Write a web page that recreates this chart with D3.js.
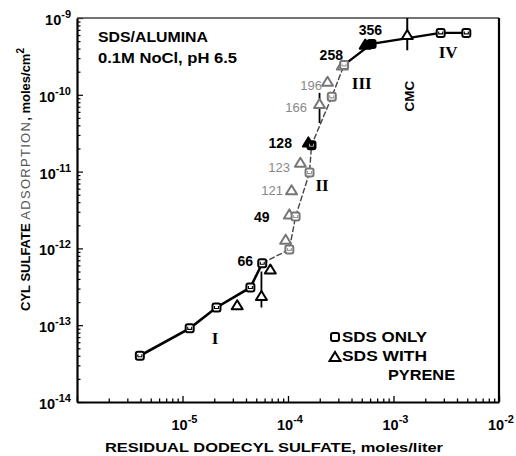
<!DOCTYPE html>
<html>
<head>
<meta charset="utf-8">
<script src="https://cdn.jsdelivr.net/npm/d3@7"></script>
<style>
  body { margin: 0; background: #fff; }
  text { font-family: "Liberation Sans", Arial, sans-serif; }
</style>
</head>
<body>
<script>
const width = 516;
const height = 456;
const margin = {left: 77, right: 17, top: 18, bottom: 54};

// SDS only (squares): residual conc (moles/liter), adsorption (moles/cm2)
const sdsConc = [3.94e-6, 1.17e-5, 2.1e-5, 4.4e-5, 5.7e-5, 1.03e-4, 1.18e-4, 1.6e-4, 1.67e-4, 2.6e-4, 3.4e-4, 6.2e-4, 2.8e-3, 4.9e-3];
const sdsAds = [4.0e-14, 9.1e-14, 1.7e-13, 3.1e-13, 6.4e-13, 9.7e-13, 2.6e-12, 9.7e-12, 2.2e-11, 9.4e-11, 2.45e-10, 4.6e-10, 6.4e-10, 6.4e-10];

// SDS with pyrene (triangles)
const pyrConc = [3.3e-5, 5.6e-5, 6.8e-5, 9.5e-5, 1.03e-4, 1.08e-4, 1.31e-4, 1.56e-4, 1.99e-4, 2.37e-4, 3.27e-4, 5.4e-4, 1.35e-3];
const pyrAds = [1.82e-13, 2.4e-13, 5.3e-13, 1.3e-12, 2.77e-12, 5.7e-12, 1.3e-11, 2.4e-11, 7.6e-11, 1.48e-10, 2.4e-10, 4.5e-10, 6.0e-10];

// error bars on two pyrene points
const errIdx = [1, 8];
const errLo = [1.7e-13, 4.3e-11];
const errHi = [5.0e-13, 1.06e-10];

// numbers written next to points
const ptLabels = ['66', '49', '121', '123', '128', '166', '196', '258', '356'];
const ptLabelConc = [4.66e-5, 6.7e-5, 8.97e-5, 1.045e-4, 1.09e-4, 1.51e-4, 2.1e-4, 3.32e-4, 7.78e-4];
const ptLabelAds = [5.9e-13, 2.2e-12, 4.96e-12, 9.9e-12, 2.03e-11, 5.97e-11, 1.15e-10, 2.84e-10, 6.0e-10];
const greyLabels = ['121', '123', '166', '196'];

// regions
const regions = ['I', 'II', 'III', 'IV'];
const regionConc = [2.03e-5, 2.1e-4, 5.0e-4, 3.3e-3];
const regionAds = [6.8e-14, 6.7e-12, 1.43e-10, 3.6e-10];

const cmcConc = 1.35e-3;
const cmcLineEnd = 3.8e-10;

const xTickLabels = [1e-5, 1e-4, 1e-3, 1e-2];
const yTickLabels = [1e-9, 1e-10, 1e-11, 1e-12, 1e-13, 1e-14];
const legendLabels = ['SDS ONLY', 'SDS WITH', 'PYRENE'];

const svg = d3.select('body').append('svg')
  .attr('width', width)
  .attr('height', height);

const x = d3.scaleLog().domain([1e-6, 1e-2]).range([margin.left, width - margin.right]);
const y = d3.scaleLog().domain([1e-14, 1e-9]).range([height - margin.bottom, margin.top]);

const isMajor = d => Math.abs(Math.log10(d) - Math.round(Math.log10(d))) < 1e-6;

function logTicks(lo, hi) {
  let t = [];
  for (let e = lo; e < hi; e++) {
    for (let k = 1; k < 10; k++) t.push(k * Math.pow(10, e));
  }
  t.push(Math.pow(10, hi));
  return t;
}

// axes with inward ticks
const xAxis = svg.append('g')
  .attr('transform', `translate(0, ${y.range()[0]})`)
  .call(d3.axisBottom(x).tickValues(logTicks(-6, -2)).tickFormat('').tickSizeOuter(0));
xAxis.select('.domain').attr('stroke-width', 2.2);
xAxis.selectAll('.tick line').attr('y2', d => isMajor(d) ? -6 : -3.5).attr('stroke-width', 1.3);

const yAxis = svg.append('g')
  .attr('transform', `translate(${x.range()[0]}, 0)`)
  .call(d3.axisLeft(y).tickValues(logTicks(-14, -9)).tickFormat('').tickSizeOuter(0));
yAxis.select('.domain').attr('stroke-width', 2.2);
yAxis.selectAll('.tick line').attr('x2', d => isMajor(d) ? 6 : 3.5).attr('stroke-width', 1.2);

// top and right frame
svg.append('line')
  .attr('x1', x.range()[0]).attr('x2', x.range()[1])
  .attr('y1', y.range()[1]).attr('y2', y.range()[1])
  .attr('stroke', '#444').attr('stroke-width', 1.6);
svg.append('line')
  .attr('x1', x.range()[1]).attr('x2', x.range()[1])
  .attr('y1', y.range()[1]).attr('y2', y.range()[0])
  .attr('stroke', '#000').attr('stroke-width', 2.2);

// tick labels
function powLabel(sel, d) {
  const e = Math.round(Math.log10(d));
  sel.append('tspan').text('10').attr('font-size', 14.5);
  sel.append('tspan').text(String(e)).attr('font-size', 11).attr('dy', -7);
}

svg.selectAll('.xlab')
  .data(xTickLabels)
  .enter()
  .append('text')
  .attr('class', 'xlab')
  .attr('x', d => x(d) + 2)
  .attr('y', 430)
  .attr('text-anchor', 'middle')
  .attr('font-weight', 'bold')
  .each(function(d) { powLabel(d3.select(this), d); });

svg.selectAll('.ylab')
  .data(yTickLabels)
  .enter()
  .append('text')
  .attr('class', 'ylab')
  .attr('x', 71)
  .attr('y', d => y(d) + 7)
  .attr('text-anchor', 'end')
  .attr('font-weight', 'bold')
  .each(function(d) { powLabel(d3.select(this), d); });

// axis titles
svg.append('text')
  .text('RESIDUAL DODECYL SULFATE, moles/liter')
  .attr('x', 105)
  .attr('y', 452)
  .attr('textLength', 338)
  .attr('lengthAdjust', 'spacingAndGlyphs')
  .attr('font-size', 13)
  .attr('font-weight', 'bold');

const yTitle = svg.append('text')
  .attr('transform', 'translate(30, 311) rotate(-90)')
  .attr('font-size', 13);
yTitle.append('tspan').text('CYL SULFATE ').attr('font-weight', 'bold');
yTitle.append('tspan').text('ADSORPTION').attr('fill', '#555').attr('letter-spacing', 1.3);
yTitle.append('tspan').text(', moles/cm').attr('font-weight', 'bold');
yTitle.append('tspan').text('2').attr('font-weight', 'bold').attr('font-size', 10).attr('dy', -6);

// header
svg.append('text')
  .text('SDS/ALUMINA')
  .attr('x', 98).attr('y', 42)
  .attr('textLength', 110).attr('lengthAdjust', 'spacingAndGlyphs')
  .attr('font-size', 14).attr('font-weight', 'bold');
svg.append('text')
  .text('0.1M NoCl, pH 6.5')
  .attr('x', 98).attr('y', 63)
  .attr('textLength', 139).attr('lengthAdjust', 'spacingAndGlyphs')
  .attr('font-size', 14).attr('font-weight', 'bold');

// connecting curve through SDS-only points
const sds = sdsConc.map((c, i) => [c, sdsAds[i]]);
const pyr = pyrConc.map((c, i) => [c, pyrAds[i]]);
const line = d3.line().x(d => x(d[0])).y(d => y(d[1]));

svg.append('path').datum(sds.slice(0, 5))
  .attr('d', line).attr('fill', 'none').attr('stroke', '#000').attr('stroke-width', 2.6);
svg.append('path').datum(sds.slice(4, 11))
  .attr('d', line).attr('fill', 'none').attr('stroke', '#444').attr('stroke-width', 1.4)
  .attr('stroke-dasharray', '6,2');
svg.append('path').datum(sds.slice(10))
  .attr('d', line).attr('fill', 'none').attr('stroke', '#000').attr('stroke-width', 2.4);

// CMC line
svg.append('line')
  .attr('x1', x(cmcConc)).attr('x2', x(cmcConc))
  .attr('y1', y.range()[1]).attr('y2', y(cmcLineEnd))
  .attr('stroke', '#000').attr('stroke-width', 2);
svg.append('text')
  .text('CMC')
  .attr('transform', `translate(${x(cmcConc) + 7}, 96) rotate(-90)`)
  .attr('text-anchor', 'middle')
  .attr('font-size', 13.5).attr('font-weight', 'bold');

// error bars
errIdx.forEach((k, i) => {
  svg.append('line')
    .attr('x1', x(pyrConc[k])).attr('x2', x(pyrConc[k]))
    .attr('y1', y(errLo[i])).attr('y2', y(errHi[i]))
    .attr('stroke', '#000').attr('stroke-width', 1.8);
});

const filledSq = new Set([8, 11]);
const filledTri = new Set([7, 11]);
const faded = d => d[1] > 8e-13 && d[1] < 3e-10;

const triPath = 'M0,-5 L5.5,4 L-5.5,4 Z';

svg.selectAll('.tri')
  .data(pyr)
  .enter()
  .append('path')
  .attr('class', 'tri')
  .attr('d', triPath)
  .attr('transform', d => `translate(${x(d[0])}, ${y(d[1])})`)
  .attr('fill', (d, i) => filledTri.has(i) ? '#000' : '#fff')
  .attr('stroke', (d, i) => filledTri.has(i) ? '#000' : (faded(d) ? '#777' : '#000'))
  .attr('stroke-width', 2)
  .attr('stroke-linejoin', 'round');

const sqG = svg.selectAll('.sq')
  .data(sds)
  .enter()
  .append('g')
  .attr('class', 'sq')
  .attr('transform', d => `translate(${x(d[0])}, ${y(d[1])})`);
sqG.append('rect')
  .attr('x', -4).attr('y', -4).attr('width', 8).attr('height', 8).attr('rx', 2)
  .attr('fill', (d, i) => filledSq.has(i) ? '#000' : '#fff')
  .attr('stroke', (d, i) => filledSq.has(i) ? '#000' : (faded(d) ? '#777' : '#000'))
  .attr('stroke-width', 2);
sqG.append('path')
  .attr('d', 'M-2,-1.5 V1 H2 V-1.5')
  .attr('fill', 'none')
  .attr('stroke', (d, i) => faded(d) ? '#999' : '#000')
  .attr('stroke-width', 1.1);

// point labels
svg.selectAll('.ptlab')
  .data(ptLabels)
  .enter()
  .append('text')
  .attr('class', 'ptlab')
  .text(d => d)
  .attr('x', (d, i) => x(ptLabelConc[i]))
  .attr('y', (d, i) => y(ptLabelAds[i]))
  .attr('text-anchor', 'end')
  .attr('font-size', d => greyLabels.includes(d) ? 13 : 14)
  .attr('font-weight', d => greyLabels.includes(d) ? 'normal' : 'bold')
  .attr('fill', d => greyLabels.includes(d) ? '#888' : '#000');

// region numerals
svg.selectAll('.region')
  .data(regions)
  .enter()
  .append('text')
  .attr('class', 'region')
  .text(d => d)
  .attr('x', (d, i) => x(regionConc[i]))
  .attr('y', (d, i) => y(regionAds[i]))
  .attr('dy', '0.35em')
  .attr('text-anchor', 'middle')
  .style('font-family', '"Liberation Serif", serif')
  .attr('font-size', 17)
  .attr('font-weight', 'bold');

// legend
const legend = svg.append('g').attr('transform', 'translate(335, 337)');
legend.append('rect')
  .attr('x', -4).attr('y', -4).attr('width', 8).attr('height', 8).attr('rx', 2)
  .attr('fill', '#fff').attr('stroke', '#000').attr('stroke-width', 2);
legend.append('path')
  .attr('d', triPath)
  .attr('transform', 'translate(0, 20)')
  .attr('fill', '#fff').attr('stroke', '#000').attr('stroke-width', 2);
legend.selectAll('text')
  .data(legendLabels)
  .enter()
  .append('text')
  .text(d => d)
  .attr('x', (d, i) => i === 2 ? 53 : 7)
  .attr('y', (d, i) => 5 + i * 19)
  .attr('textLength', (d, i) => i === 2 ? 67 : 85)
  .attr('lengthAdjust', 'spacingAndGlyphs')
  .attr('font-size', 14)
  .attr('font-weight', 'bold');
</script>
</body>
</html>
